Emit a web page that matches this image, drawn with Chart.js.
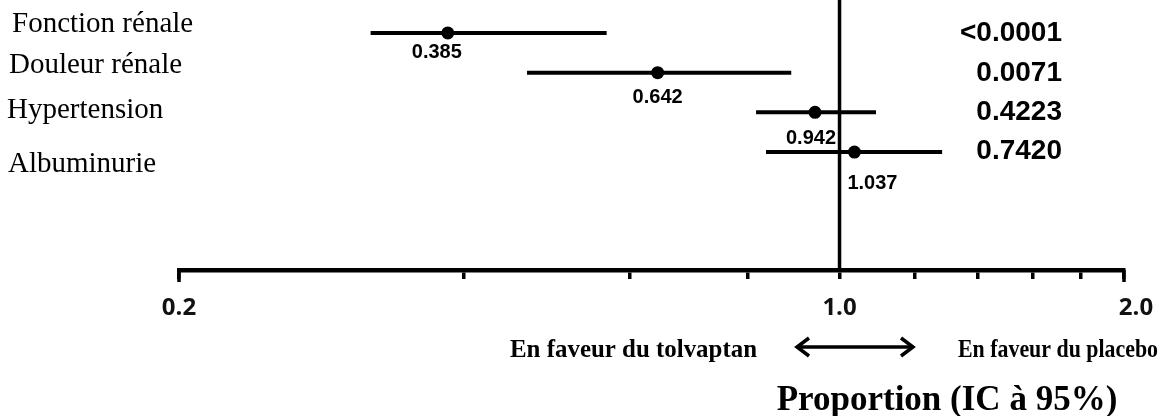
<!DOCTYPE html>
<html>
<head>
<meta charset="utf-8">
<script src="https://cdn.jsdelivr.net/npm/chart.js@4.4.0/dist/chart.umd.min.js"></script>
<style>
  html, body { margin: 0; padding: 0; background: #fff; }
  #wrap { width: 1161px; height: 416px; }
</style>
</head>
<body>
<div id="wrap"><canvas id="forest" width="1161" height="416"></canvas></div>
<script>
// Outcomes, point estimates (ratio) and 95% CI bounds
const outcomes = ['Fonction rénale', 'Douleur rénale', 'Hypertension', 'Albuminurie'];
const ratios = [0.385, 0.642, 0.942, 1.037];
const ciLow = [0.319, 0.467, 0.816, 0.836];
const ciHigh = [0.567, 0.889, 1.093, 1.284];
const pValues = ['<0.0001', '0.0071', '0.4223', '0.7420'];

// Log axis ticks; only a few carry a label
const tickValues = [0.2, 0.4, 0.6, 0.8, 1.0, 1.2, 1.4, 1.6, 1.8, 2.0];
const labeledTicks = [0.2, 1.0, 2.0];

const leftLabel = 'En faveur du tolvaptan';
const rightLabel = 'En faveur du placebo';
const axisTitle = 'Proportion (IC à 95%)';

// Text placement tweaks (pixels)
const style = {
  catX: [12, 9, 7, 8],
  catDy: [-1, 0, 6, 20],
  pRight: 1062,
  pDy: [8, 8, 8, 7],
  valDx: [-11, 0, -4, 18],
  valDy: [25, 30, 32, 37],
};

const ciDatasets = outcomes.map((name, i) => ({
  label: name,
  data: [{ x: ciLow[i], y: i }, { x: ciHigh[i], y: i }],
  showLine: true,
  borderColor: '#000',
  borderWidth: 4,
  pointRadius: 0,
  borderCapStyle: 'butt',
}));

const pointDataset = {
  label: 'Proportion',
  data: ratios.map((r, i) => ({ x: r, y: i })),
  pointRadius: 6.5,
  pointHoverRadius: 6.5,
  backgroundColor: '#000',
  borderColor: '#000',
  borderWidth: 0,
};

const forestDecor = {
  id: 'forestDecor',
  beforeDatasetsDraw(chart) {
    const { ctx, chartArea, scales: { x } } = chart;
    const px = x.getPixelForValue(1.0);
    ctx.save();
    ctx.strokeStyle = '#000';
    ctx.lineWidth = 3.5;
    ctx.beginPath();
    ctx.moveTo(px, 0);
    ctx.lineTo(px, chartArea.bottom);
    ctx.stroke();
    ctx.restore();
  },
  afterDraw(chart) {
    const { ctx, chartArea, scales: { x, y } } = chart;
    ctx.save();
    ctx.fillStyle = '#000';

    // longer end ticks of the axis
    ctx.strokeStyle = '#000';
    ctx.lineWidth = 3.5;
    [tickValues[0], tickValues[tickValues.length - 1]].forEach(v => {
      const px = x.getPixelForValue(v);
      ctx.beginPath();
      ctx.moveTo(px, chartArea.bottom);
      ctx.lineTo(px, chartArea.bottom + 12);
      ctx.stroke();
    });

    // outcome names
    ctx.font = '29px "Liberation Serif", "Times New Roman", serif';
    ctx.textAlign = 'left';
    ctx.textBaseline = 'alphabetic';
    outcomes.forEach((name, i) => {
      ctx.fillText(name, style.catX[i], y.getPixelForValue(i) + style.catDy[i]);
    });

    // p values
    ctx.font = 'bold 28px "Liberation Sans", Arial, sans-serif';
    ctx.textAlign = 'right';
    pValues.forEach((p, i) => {
      ctx.fillText(p, style.pRight, y.getPixelForValue(i) + style.pDy[i]);
    });

    // estimate labels under the points
    ctx.font = 'bold 20px "Liberation Sans", Arial, sans-serif';
    ctx.textAlign = 'center';
    ratios.forEach((r, i) => {
      ctx.fillText(r.toFixed(3), x.getPixelForValue(r) + style.valDx[i], y.getPixelForValue(i) + style.valDy[i]);
    });

    // direction labels and arrow
    ctx.font = 'bold 26px "Liberation Serif", "Times New Roman", serif';
    ctx.textAlign = 'left';
    ctx.fillText(leftLabel, 510, 357, 247);
    ctx.fillText(rightLabel, 958, 357, 200);

    const ay = 347, ax1 = 795, ax2 = 915;
    ctx.lineWidth = 3.5;
    ctx.lineCap = 'butt';
    ctx.beginPath();
    ctx.moveTo(ax1 + 2, ay);
    ctx.lineTo(ax2 - 2, ay);
    ctx.stroke();
    ctx.lineJoin = 'miter';
    ctx.beginPath();
    ctx.moveTo(ax1 + 14, ay - 9);
    ctx.lineTo(ax1 + 2, ay);
    ctx.lineTo(ax1 + 14, ay + 9);
    ctx.moveTo(ax2 - 14, ay - 9);
    ctx.lineTo(ax2 - 2, ay);
    ctx.lineTo(ax2 - 14, ay + 9);
    ctx.stroke();

    // axis title
    ctx.font = 'bold 35px "Liberation Serif", "Times New Roman", serif';
    ctx.textAlign = 'center';
    ctx.fillText(axisTitle, 947, 410, 341);
    ctx.restore();
  }
};

new Chart(document.getElementById('forest'), {
  type: 'scatter',
  data: { datasets: [...ciDatasets, pointDataset] },
  options: {
    responsive: false,
    animation: false,
    events: [],
    layout: { autoPadding: false, padding: { left: 179, right: 37, top: 0, bottom: 96 } },
    plugins: { legend: { display: false }, tooltip: { enabled: false } },
    scales: {
      x: {
        type: 'logarithmic',
        min: 0.2,
        max: 2.0,
        afterBuildTicks(scale) {
          scale.ticks = tickValues.map(v => ({ value: v }));
        },
        afterFit(scale) {
          scale.height = 50;
          // edge labels may overhang; keep the plot width fixed
          scale.paddingLeft = 0;
          scale.paddingRight = 0;
        },
        ticks: {
          autoSkip: false,
          maxRotation: 0,
          padding: 15,
          color: '#111',
          font: { family: '"Open Sans", sans-serif', size: 24, weight: 'bold' },
          callback(value, index, ticks) {
            if (!labeledTicks.some(t => Math.abs(t - value) < 1e-9)) return '';
            // the last label sits slightly right of its tick
            return index === ticks.length - 1 ? '\u2002\u2002' + value.toFixed(1) : value.toFixed(1);
          },
        },
        grid: {
          drawOnChartArea: false,
          drawTicks: true,
          tickLength: 9,
          color: '#000',
          lineWidth: 3.5,
        },
        border: { display: true, color: '#000', width: 4.5 },
      },
      y: {
        display: false,
        reverse: true,
        min: -0.83,
        max: 5.97,
      },
    },
  },
  plugins: [forestDecor],
});
</script>
</body>
</html>
